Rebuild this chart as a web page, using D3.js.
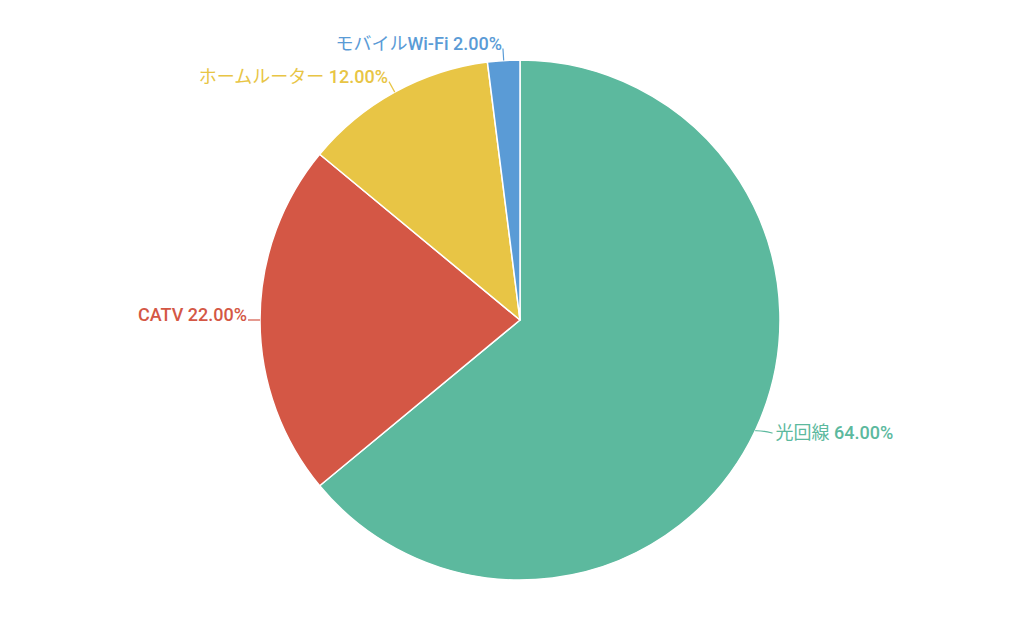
<!DOCTYPE html>
<html>
<head>
<meta charset="utf-8">
<script src="https://cdn.jsdelivr.net/npm/d3@7"></script>
<style>
  body { margin: 0; background: #fff; }
  svg { display: block; }
</style>
</head>
<body>
<div id="chart"></div>
<script>
// data
var categories = ["光回線", "CATV", "ホームルーター", "モバイルWi-Fi"];
var shares = [64, 22, 12, 2];
var colors = ["#5cb99e", "#d45745", "#e8c545", "#5a9bd6"];

var svgWidth = 1024;
var svgHeight = 630;
var cx = 520, cy = 320, radius = 260;

var svg = d3.select("#chart")
  .append("svg")
  .attr("width", svgWidth)
  .attr("height", svgHeight);

var g = svg.append("g")
  .attr("transform", `translate(${cx}, ${cy})`);

var data = categories.map((c, i) => ({ name: c, value: shares[i], color: colors[i] }));

var pie = d3.pie().sort(null).value(d => d.value);
var arc = d3.arc().innerRadius(0).outerRadius(radius);
var arcs = pie(data);

// slices
g.selectAll("path.slice")
  .data(arcs)
  .enter()
  .append("path")
  .attr("class", "slice")
  .attr("d", arc)
  .attr("fill", d => d.data.color)
  .attr("stroke", "#fff")
  .attr("stroke-width", 1.5)
  .attr("stroke-linejoin", "round");

// leader lines + labels
function pt(angle, r) {
  return [r * Math.sin(angle), -r * Math.cos(angle)];
}

arcs.forEach(function(d) {
  var mid = (d.startAngle + d.endAngle) / 2;
  var right = Math.sin(mid) > 0.05;
  var p0 = pt(mid, radius);
  var p1 = pt(mid, radius + (right ? 8 : 12));
  var pts = [p0, p1];
  if (right) pts.push([p1[0] + 10, p1[1] - 1]);
  var end = pts[pts.length - 1];

  g.append("path")
    .attr("d", d3.line().curve(d3.curveBasis)(right ? [p0, [p1[0] + 2, p1[1] - 3], end] : pts))
    .attr("fill", "none")
    .attr("stroke", d.data.color)
    .attr("stroke-width", 1.2);

  var text = g.append("text")
    .attr("x", right ? end[0] + 3 : end[0] - 1)
    .attr("y", right ? end[1] + 6 : end[1] + 1)
    .attr("text-anchor", right ? "start" : "end")
    .attr("fill", d.data.color)
    .attr("font-family", "Roboto, 'Noto Sans CJK JP', sans-serif")
    .attr("font-size", "18px");

  // CJK runs normal weight, latin runs medium
  var label = d.data.name + " " + d3.format(".2f")(d.data.value) + "%";
  var runs = label.match(/[\u3000-\u30ff\u4e00-\u9fff]+|[^\u3000-\u30ff\u4e00-\u9fff]+/g);
  runs.forEach(function(r) {
    var cjk = /[\u3000-\u30ff\u4e00-\u9fff]/.test(r);
    text.append("tspan")
      .attr("font-family", cjk ? "'Noto Sans CJK JP', sans-serif" : "Roboto, sans-serif")
      .attr("font-weight", cjk ? 400 : 500)
      .text(r);
  });
});
</script>
</body>
</html>
